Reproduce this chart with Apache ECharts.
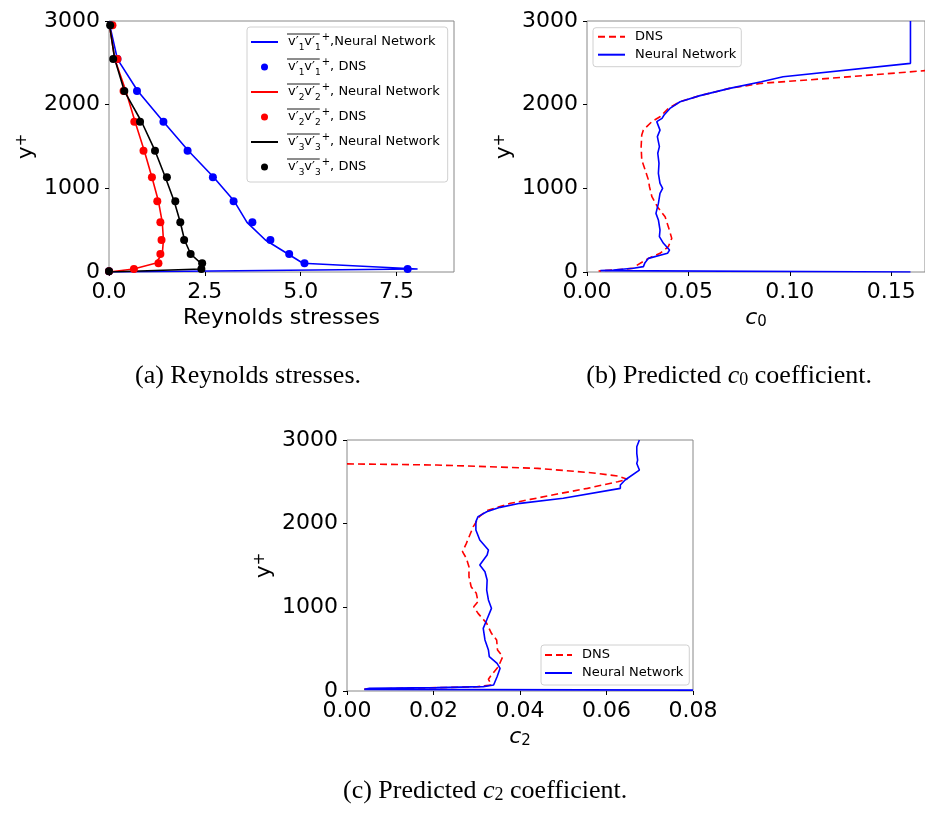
<!DOCTYPE html>
<html><head><meta charset="utf-8">
<script src="https://cdn.jsdelivr.net/npm/echarts@6/dist/echarts.min.js"></script>
<style>html,body{margin:0;padding:0;background:#fff}#c{width:925px;height:813px}</style>
</head><body><div id="c"></div>
<script>
// ---------- (a) Reynolds stresses ----------
const yDns  = [2950, 2545, 2163, 1796, 1450, 1132, 845, 594, 382, 215, 104, 35, 8];
const uuDns = [0.05, 0.22, 0.73, 1.42, 2.05, 2.71, 3.25, 3.74, 4.21, 4.70, 5.10, 7.79, 0.0];
const vvDns = [0.09, 0.22, 0.38, 0.66, 0.90, 1.12, 1.26, 1.34, 1.37, 1.34, 1.29, 0.65, 0.0];
const wwDns = [0.03, 0.11, 0.40, 0.81, 1.20, 1.51, 1.73, 1.86, 1.96, 2.13, 2.43, 2.41, 0.0];
const yNn   = [2990, 2545, 2163, 1796, 1450, 1132, 845, 594, 382, 215, 104, 35, 0];
const uuNn  = [0.0, 0.22, 0.75, 1.42, 2.07, 2.73, 3.27, 3.60, 4.08, 4.67, 5.06, 8.05, 0.0];
const vvNn  = [0.0, 0.15, 0.44, 0.68, 0.92, 1.12, 1.29, 1.39, 1.42, 1.39, 1.21, 0.64, 0.0];
const wwNn  = [0.0, 0.15, 0.40, 0.85, 1.20, 1.47, 1.70, 1.86, 1.97, 2.13, 2.40, 2.41, 0.0];
const ticksA = [0, 2.5, 5.0, 7.5];

// ---------- (b) c0 ----------
const c0NnX = [0.1595, 0.1595, 0.0967, 0.0860, 0.0703, 0.0557, 0.0459, 0.0409, 0.0380, 0.0370, 0.0344, 0.0360, 0.0347, 0.0357, 0.0349, 0.0355, 0.0352, 0.0360, 0.0373, 0.0360, 0.0352, 0.0340, 0.0352, 0.0360, 0.0357, 0.0377, 0.0407, 0.0397, 0.0303, 0.0286, 0.0278, 0.0229, 0.0130, 0.0066, 0.0057, 0.1595];
const c0NnY = [3000, 2494, 2334, 2275, 2195, 2108, 2035, 1955, 1876, 1837, 1797, 1696, 1618, 1498, 1419, 1299, 1180, 1060, 1000, 940, 820, 701, 622, 502, 422, 343, 263, 223, 163, 112, 64, 44, 24, 16, 5, 0];
const c0DnsX = [0.168, 0.1196, 0.0860, 0.0703, 0.0557, 0.0459, 0.0401, 0.0360, 0.0320, 0.0278, 0.0270, 0.0267, 0.0270, 0.0287, 0.0303, 0.0308, 0.0320, 0.0347, 0.0385, 0.0401, 0.0418, 0.0401, 0.0360, 0.0303, 0.0240, 0.0229, 0.0130, 0.0057];
const c0DnsY = [2409, 2315, 2255, 2195, 2108, 2035, 1956, 1856, 1797, 1697, 1637, 1498, 1338, 1219, 1100, 1020, 900, 781, 661, 542, 402, 303, 223, 163, 72, 44, 24, 12];
const ticksB = [0, 0.05, 0.10, 0.15];

// ---------- (c) c2 ----------
const c2NnX = [0.0676, 0.0670, 0.0670, 0.0672, 0.0670, 0.0676, 0.0643, 0.0632, 0.0632, 0.0500, 0.0400, 0.0354, 0.0323, 0.0303, 0.0298, 0.0298, 0.0307, 0.0327, 0.0324, 0.0307, 0.0319, 0.0324, 0.0323, 0.0327, 0.0334, 0.0323, 0.0315, 0.0319, 0.0327, 0.0329, 0.0347, 0.0354, 0.0347, 0.0339, 0.0315, 0.0207, 0.0052, 0.0040, 0.0800];
const c2NnY = [3000, 2920, 2840, 2760, 2720, 2641, 2522, 2462, 2422, 2303, 2243, 2195, 2143, 2084, 2024, 1925, 1805, 1686, 1626, 1506, 1426, 1326, 1207, 1088, 988, 848, 749, 610, 490, 410, 331, 271, 171, 72, 52, 40, 32, 20, 10];
const c2DnsX = [0.0, 0.0207, 0.0441, 0.0564, 0.0626, 0.0648, 0.0626, 0.0556, 0.0486, 0.0424, 0.0378, 0.0347, 0.0323, 0.0306, 0.0292, 0.0284, 0.0276, 0.0267, 0.0276, 0.0282, 0.0282, 0.0287, 0.0299, 0.0303, 0.0293, 0.0303, 0.0323, 0.0334, 0.0346, 0.0348, 0.0360, 0.0350, 0.0331, 0.0327, 0.0334, 0.0300, 0.0040];
const c2DnsY = [2715, 2701, 2661, 2609, 2570, 2530, 2502, 2422, 2354, 2290, 2243, 2195, 2155, 2084, 1964, 1865, 1765, 1666, 1586, 1486, 1367, 1247, 1167, 1068, 1008, 928, 809, 689, 610, 490, 410, 291, 171, 140, 72, 50, 22];
const ticksC = [0, 0.02, 0.04, 0.06, 0.08];
const ticksY = [0, 1000, 2000, 3000];

const FONT = 'DejaVu Sans';
const SERIF = 'Liberation Serif';
const zip = (xs, ys) => xs.map((x, i) => [x, ys[i]]);

function xAx(gi, max, ticks, dec, nameRich, gap) {
  return {
    type: 'value', gridIndex: gi, min: 0, max: max,
    name: nameRich.text, nameLocation: 'middle', nameGap: gap,
    nameTextStyle: {fontSize: 22, fontFamily: FONT, color: '#000', rich: nameRich.rich},
    axisLine: {show: false, onZero: false}, splitLine: {show: false},
    axisTick: {show: true, length: 4, lineStyle: {color: '#000', width: 1}, customValues: ticks},
    axisLabel: {customValues: ticks, formatter: v => v.toFixed(dec), fontSize: 22, fontFamily: FONT, color: '#000', margin: 9}
  };
}
const yName = {text: 'y{sup|+}', rich: {sup: {fontSize: 15, fontFamily: FONT, color: '#000', verticalAlign: 'top', lineHeight: 14}}};
function yAx(gi) {
  return {
    type: 'value', gridIndex: gi, min: 0, max: 3000,
    name: yName.text, nameLocation: 'middle', nameGap: 72,
    nameTextStyle: {fontSize: 22, fontFamily: FONT, color: '#000', rich: yName.rich},
    axisLine: {show: false, onZero: false}, splitLine: {show: false},
    axisTick: {show: true, length: 4, lineStyle: {color: '#000', width: 1}, customValues: ticksY},
    axisLabel: {customValues: ticksY, formatter: v => String(v), fontSize: 22, fontFamily: FONT, color: '#000', margin: 9}
  };
}
const cName = d => ({text: '{c|c}{s|' + d + '}', rich: {
  c: {fontSize: 22, fontFamily: FONT, fontStyle: 'italic', color: '#000', lineHeight: 24},
  s: {fontSize: 15, fontFamily: FONT, color: '#000', verticalAlign: 'bottom', lineHeight: 14}}});

const BLUE = '#0000ff', RED = '#ff0000', BLACK = '#000000';
const lineS = (name, xi, data, color, dashed) => ({
  name, type: 'line', xAxisIndex: xi, yAxisIndex: xi, data, showSymbol: false, symbol: 'none',
  lineStyle: {color, width: 1.6, type: dashed ? [7, 4] : 'solid'}, itemStyle: {color}, z: 3, animation: false
});
const dotS = (name, xi, data, color) => ({
  name, type: 'scatter', xAxisIndex: xi, yAxisIndex: xi, data, symbol: 'circle', symbolSize: 8,
  itemStyle: {color, opacity: 1}, z: 4, animation: false
});

const N1 = "v'1v'1+,Neural Network", D1 = "v'1v'1+, DNS";
const N2 = "v'2v'2+, Neural Network", D2 = "v'2v'2+, DNS";
const N3 = "v'3v'3+, Neural Network", D3 = "v'3v'3+, DNS";
const legA = {
  [N1]: ['1', ',Neural Network'], [D1]: ['1', ', DNS'],
  [N2]: ['2', ', Neural Network'], [D2]: ['2', ', DNS'],
  [N3]: ['3', ', Neural Network'], [D3]: ['3', ', DNS']
};

const series = [
  lineS(N1, 0, zip(uuNn, yNn), BLUE), dotS(D1, 0, zip(uuDns, yDns), BLUE),
  lineS(N2, 0, zip(vvNn, yNn), RED), dotS(D2, 0, zip(vvDns, yDns), RED),
  lineS(N3, 0, zip(wwNn, yNn), BLACK), dotS(D3, 0, zip(wwDns, yDns), BLACK),
  lineS('DNS', 1, zip(c0DnsX, c0DnsY), RED, true),
  lineS('Neural Network', 1, zip(c0NnX, c0NnY), BLUE),
  lineS('DNS', 2, zip(c2DnsX, c2DnsY), RED, true),
  lineS('Neural Network', 2, zip(c2NnX, c2NnY), BLUE)
];

const hideSym = n => ({name: n, itemStyle: {opacity: 0}});
const gridStyle = {show: true, borderColor: '#888', borderWidth: 1, backgroundColor: 'transparent', containLabel: false};
const legBase = {
  orient: 'vertical', selectedMode: false, itemWidth: 27, itemHeight: 14, itemGap: 4,
  backgroundColor: 'rgba(255,255,255,0.8)', borderColor: '#d0d0d0', borderWidth: 1, borderRadius: 3,
  formatter: n => '{sp|}' + n,
  textStyle: {fontSize: 13, fontFamily: FONT, color: '#000', lineHeight: 14, rich: {sp: {width: 5}}},
  data: [hideSym('DNS'), hideSym('Neural Network')]
};

// measure overline widths for legend (a)
const mc = document.createElement('canvas').getContext('2d');
function tw(t, fs) { mc.font = fs + 'px "' + FONT + '"'; return mc.measureText(t).width; }

const legTop = 27, legLeft = 247, rowH = 25;
const textX0 = legLeft + 3 + 27 + 5 + 5;
const overW = 2 * (tw('v′', 13) + tw('1', 9));
const overlines = [0, 1, 2, 3, 4, 5].map(i => ({
  type: 'line', silent: true, z: 100,
  shape: {x1: textX0, y1: legTop + 5 + 10 + rowH * i - 8, x2: textX0 + overW, y2: legTop + 5 + 10 + rowH * i - 8},
  style: {stroke: '#000', lineWidth: 0.9}
}));

const CAPFS = 26;
const capRich = {
  i: {fontSize: CAPFS, fontFamily: SERIF, fontStyle: 'italic', fill: '#000'},
  s: {fontSize: 18, fontFamily: SERIF, fill: '#000', padding: [9, 0, 0, 0]}
};
const captions = [
  {x: 135, y: 376, a: 'left', text: '(a) Reynolds stresses.'},
  {x: 872, y: 376, a: 'right', text: '(b) Predicted {i|c}{s|0} coefficient.'},
  {x: 343, y: 791, a: 'left', text: '(c) Predicted {i|c}{s|2} coefficient.'}
].map(c => ({
  type: 'text', silent: true, x: c.x, y: c.y,
  style: {text: c.text, font: CAPFS + 'px "' + SERIF + '"', fill: '#000', verticalAlign: 'middle', align: c.a, rich: capRich}
}));

const chart = echarts.init(document.getElementById('c'), null, {renderer: 'canvas'});
chart.setOption({
  animation: false,
  backgroundColor: '#fff',
  grid: [
    Object.assign({left: 109, top: 21, width: 345, height: 251}, gridStyle),
    Object.assign({left: 587, top: 21, width: 339, height: 251}, gridStyle),
    Object.assign({left: 347, top: 440, width: 346, height: 251}, gridStyle)
  ],
  xAxis: [
    xAx(0, 9, ticksA, 1, {text: 'Reynolds stresses', rich: {}}, 35),
    xAx(1, 0.16667, ticksB, 2, cName('0'), 34),
    xAx(2, 0.08, ticksC, 2, cName('2'), 34)
  ],
  yAxis: [yAx(0), yAx(1), yAx(2)],
  legend: [
    {
      orient: 'vertical', selectedMode: false, left: legLeft, top: legTop,
      padding: [5, 8, 5, 3], itemWidth: 27, itemHeight: 7, itemGap: 5,
      backgroundColor: 'rgba(255,255,255,0.8)', borderColor: '#d0d0d0', borderWidth: 1, borderRadius: 3,
      data: [hideSym(N1), D1, hideSym(N2), D2, hideSym(N3), D3],
      formatter: n => { const p = legA[n]; return '{sp|}{m|v′}{sb|' + p[0] + '}{m|v′}{sb|' + p[0] + '}{su|+}{m|' + p[1] + '}'; },
      textStyle: {fontSize: 13, fontFamily: FONT, color: '#000', lineHeight: 20, rich: {
        sp: {width: 5, lineHeight: 20},
        m: {fontSize: 13, fontFamily: FONT, color: '#000', lineHeight: 20},
        sb: {fontSize: 9, fontFamily: FONT, color: '#000', lineHeight: 11, verticalAlign: 'bottom'},
        su: {fontSize: 10, fontFamily: FONT, color: '#000', lineHeight: 13, verticalAlign: 'top', padding: [0, 0, 0, 1]}
      }}
    },
    Object.assign({}, legBase, {left: 593, top: 27.7, padding: [2, 5, 5, 4]}),
    Object.assign({}, legBase, {left: 541, top: 645, padding: [3, 6, 5, 3]})
  ],
  series: series,
  graphic: overlines.concat(captions)
});
</script></body></html>
